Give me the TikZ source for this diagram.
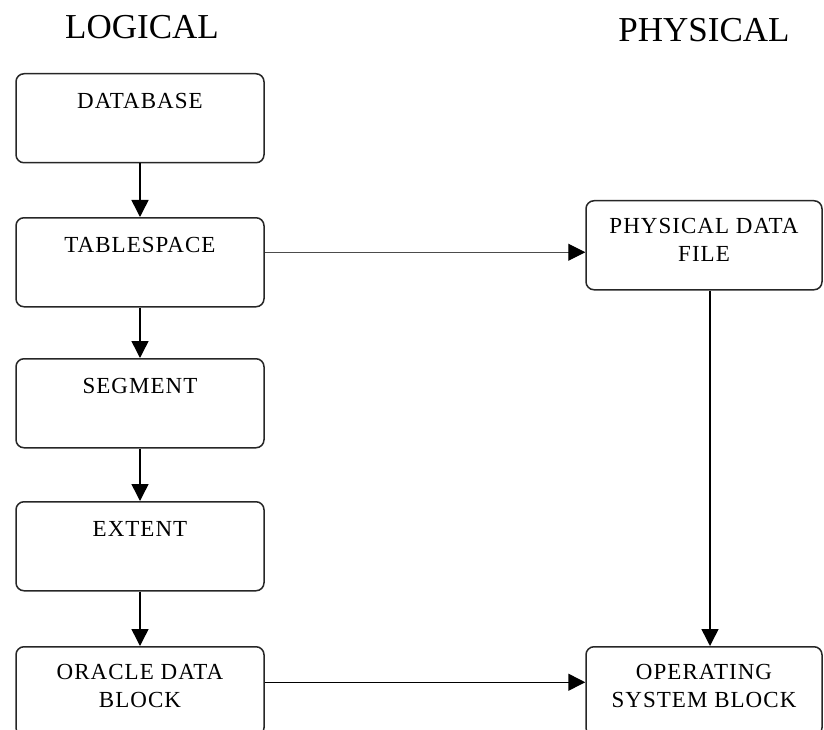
\documentclass[tikz,border=0pt]{standalone}
\usepackage{fontspec}
\setmainfont{Liberation Serif}
\newfontfamily\cajafont[LetterSpace=4.5]{Liberation Serif}
\usetikzlibrary{arrows.meta}

\begin{document}
\begin{tikzpicture}[x=1pt, y=-1pt,
        caja/.style={
            draw=black!85,
            line width=1.5pt,
            rounded corners=8pt,
            anchor=north,
            inner sep=0pt,
            minimum width=248pt,
            align=center,
            font=\cajafont\fontsize{23}{28}\selectfont,
            text height=35pt,
            text depth=54pt
        },
        doble/.style={text height=61pt, text depth=28pt},
        titulo/.style={anchor=base, inner sep=0pt, font=\fontsize{35}{42}\selectfont},
        flecha/.style={-{Triangle[length=17pt, width=17pt, color=black]}, line width=1.5pt}
    ]
        \useasboundingbox (0,0) rectangle (824,730);
        \clip (0,0) rectangle (824,730);

        \node[titulo] (logico) at (142,39) {LOGICAL};
        \node[titulo] (fisico) at (704,42) {PHYSICAL};

        % columna logica
        \node[caja] (database) at (140,73) {DATABASE};
        \node[caja] (tablespace) at (140,217) {TABLESPACE};
        \node[caja] (segment) at (140,358) {SEGMENT};
        \node[caja] (extent) at (140,501) {EXTENT};
        \node[caja, doble] (oracleblock) at (140,646) {ORACLE DATA\\BLOCK};

        % columna fisica
        \node[caja, doble, minimum width=236pt] (physfile) at (704,200)
        {PHYSICAL DATA\\FILE};
        \node[caja, doble, minimum width=236pt] (osblock) at (704,646)
        {OPERATING\\SYSTEM BLOCK};

        \draw[flecha] (database.south) -- (tablespace.north);
        \draw[flecha] (tablespace.south) -- (segment.north);
        \draw[flecha] (segment.south) -- (extent.north);
        \draw[flecha] (extent.south) -- (oracleblock.north);

        \draw[flecha, line width=1pt, draw=black!70] ([yshift=10pt]tablespace.east)
            -- ([yshift=10pt]tablespace.east -| physfile.west);
        \draw[flecha] ([xshift=6pt]physfile.south) -- ([xshift=6pt]osblock.north);
        \draw[flecha] ([yshift=9pt]oracleblock.east) -- ([yshift=9pt]osblock.west);
    \end{tikzpicture}
\end{document}
